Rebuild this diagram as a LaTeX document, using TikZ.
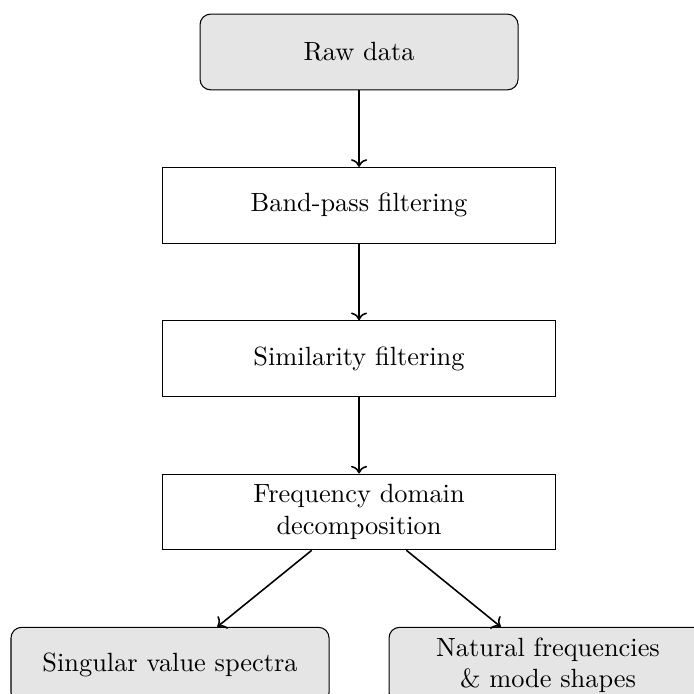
\documentclass[tikz,border=0pt]{standalone}
\usepackage{amsmath,amssymb}
\usepackage{xcolor}
\usepackage{tikz}
\usetikzlibrary{positioning, arrows.meta}

\begin{document}
\begin{tikzpicture}[
    node distance=1.02cm,
    process/.style={rectangle, draw, minimum height=1.01cm, minimum width=5.25cm, align=center},
    terminal/.style={rectangle, draw, rounded corners=4pt, fill=gray!20, minimum height=1.01cm, minimum width=4.24cm, align=center},
    arrow/.style={->, semithick}
]
\useasboundingbox (0,0) rectangle (9.253,-9.24);

\node[terminal] (raw) at (4.787,-0.693) {Raw data};
\node[process, below=of raw] (bandpass) {Band-pass filtering};
\node[process, below=of bandpass] (similarity) {Similarity filtering};
\node[process, below=of similarity] (fdd) {Frequency domain\\decomposition};

\node[terminal, below=of fdd, xshift=-2.52cm] (svs) {Singular value spectra};
\node[terminal, below=of fdd, xshift=2.52cm] (nfms) {Natural frequencies\\\& mode shapes};

\draw[arrow] (raw) -- (bandpass);
\draw[arrow] (bandpass) -- (similarity);
\draw[arrow] (similarity) -- (fdd);
\draw[arrow] (fdd) -- (svs);
\draw[arrow] (fdd) -- (nfms);

\end{tikzpicture}
\end{document}
